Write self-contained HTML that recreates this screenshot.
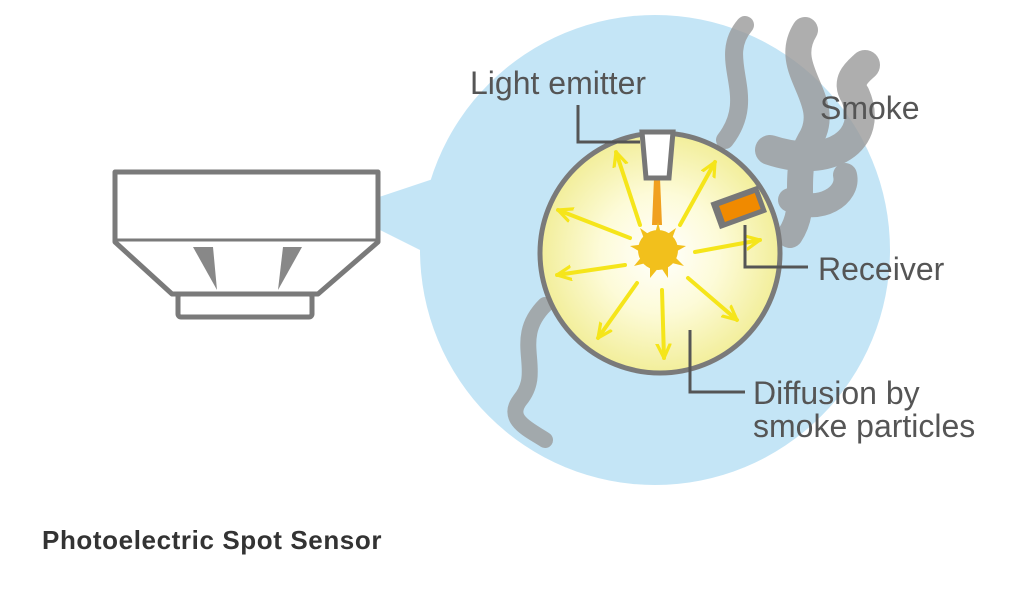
<!DOCTYPE html>
<html><head><style>
body{margin:0;width:1024px;height:590px;background:#fff;overflow:hidden;font-family:"Liberation Sans",sans-serif}
.t{position:absolute;color:#555;font-size:32px;line-height:34px}
</style></head><body>
<svg width="1024" height="590" style="position:absolute;left:0;top:0">
<defs>
<radialGradient id="g" cx="0.5" cy="0.5" r="0.5">
<stop offset="0" stop-color="#fff"/><stop offset="0.5" stop-color="#fdfbd8"/><stop offset="1" stop-color="#f2ee9a"/>
</radialGradient>
<marker id="a" markerWidth="5" markerHeight="5" refX="3.6" refY="2" orient="auto" markerUnits="strokeWidth"><path d="M0,0.3 L3.6,2 L0,3.7" fill="none" stroke="#f5e51a" stroke-width="0.8" stroke-linecap="round" stroke-linejoin="round"/></marker>
</defs>
<circle cx="655" cy="250" r="235" fill="#c4e5f6"/>
<polygon points="340,210 460,170 460,270" fill="#c4e5f6"/>
<!-- smoke -->
<g fill="none" stroke="#9a9a9a" stroke-linecap="round" opacity="0.8">
<path d="M745,25 C715,60 760,95 725,140" stroke-width="18"/>
<path d="M805,30 C780,70 835,100 810,140 C790,175 810,205 790,235" stroke-width="26"/>
<path d="M770,150 C830,170 875,140 855,95 C845,80 860,70 865,65" stroke-width="30"/>
<path d="M790,200 C820,215 850,195 845,175" stroke-width="24"/>
<path d="M545,305 C510,340 545,370 520,400 C505,420 530,430 545,440" stroke-width="16"/>
</g>
<!-- sensor -->
<g fill="#fff" stroke="#7a7a7a" stroke-width="5" stroke-linejoin="round">
<path d="M115,172 L378,172 L378,242 L318,294 L172,294 L115,242 Z"/>
<line x1="115" y1="240" x2="378" y2="240" stroke-width="3"/>
<rect x="178" y="294" width="134" height="23" rx="3"/>
</g>
<polygon points="193,247 213,247 217,290" fill="#888"/>
<polygon points="283,247 302,247 278,290" fill="#888"/>
<!-- inner -->
<circle cx="660" cy="253" r="120" fill="url(#g)" stroke="#7a7a7a" stroke-width="5"/>
<g stroke="#f5e51a" stroke-width="4" fill="none" stroke-linecap="round">
<line x1="640" y1="225" x2="616" y2="152" marker-end="url(#a)"/>
<line x1="680" y1="225" x2="715" y2="162" marker-end="url(#a)"/>
<line x1="630" y1="238" x2="558" y2="210" marker-end="url(#a)"/>
<line x1="625" y1="265" x2="557" y2="275" marker-end="url(#a)"/>
<line x1="637" y1="283" x2="598" y2="338" marker-end="url(#a)"/>
<line x1="662" y1="290" x2="664" y2="358" marker-end="url(#a)"/>
<line x1="688" y1="278" x2="737" y2="320" marker-end="url(#a)"/>
<line x1="695" y1="252" x2="760" y2="240" marker-end="url(#a)"/>
</g>
<polygon points="654,178 660,178 662,225 652,225" fill="#f0a020"/>
<g fill="#f2c01c"><circle cx="658" cy="250" r="20"/>
<polygon points="658,222 662,238 676,228 670,244 686,246 672,254 684,266 668,262 668,278 660,266 650,278 650,262 634,266 644,254 630,246 646,244 640,228 654,238"/></g>
<path d="M642,132 L673,132 L669,178 L646,178 Z" fill="#fff" stroke="#777" stroke-width="5"/>
<g transform="rotate(-20 740 208)"><rect x="714" y="193" width="50" height="28" fill="#777"/><rect x="721" y="199" width="38" height="17" fill="#f08a00"/></g>
<g fill="none" stroke="#555" stroke-width="3">
<polyline points="578,105 578,142 640,142"/>
<polyline points="745,225 745,267 808,267"/>
<polyline points="690,330 690,392 745,392"/>
</g>
</svg>
<div class="t" style="left:470px;top:66px">Light emitter</div>
<div class="t" style="left:820px;top:91px">Smoke</div>
<div class="t" style="left:818px;top:252px">Receiver</div>
<div class="t" style="left:753px;top:376px">Diffusion by</div>
<div class="t" style="left:753px;top:409px">smoke particles</div>
<div style="position:absolute;left:42px;top:525px;font-size:26px;font-weight:bold;color:#333;letter-spacing:0.6px">Photoelectric Spot Sensor</div>
</body></html>
